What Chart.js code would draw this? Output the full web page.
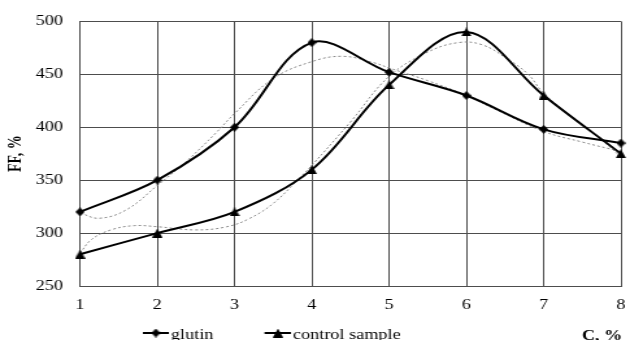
<!DOCTYPE html>
<html>
<head>
<meta charset="utf-8">
<script src="https://cdn.jsdelivr.net/npm/chart.js@4/dist/chart.umd.min.js"></script>
<style>
  html, body { margin: 0; padding: 0; background: #fff; }
</style>
</head>
<body>
<!-- the drawing surface is laid out narrower and widened by CSS -->
<canvas id="chart" width="485" height="340" style="display:block;width:630px;height:340px"></canvas>
<script>
// Concentration C, %
const concentration = [1, 2, 3, 4, 5, 6, 7, 8];

// FF, % for each sample
const glutin = [320, 350, 400, 480, 452, 430, 398, 385];
const controlSample = [280, 300, 320, 360, 440, 490, 430, 375];

// Trend curves (dotted)
const glutinTrendC  = [1, 1.25, 1.6, 2, 2.35, 2.75, 3, 3.5, 4, 4.4, 4.8, 5, 5.5, 6, 6.4, 7, 7.5, 8];
const glutinTrendFF = [319, 314, 322, 345, 366, 394, 413, 446, 462, 467, 461, 456, 444, 430, 416, 396, 386, 377];
const controlTrendC  = [1, 1.15, 1.4, 1.7, 2, 2.5, 2.9, 3.2, 3.5, 3.8, 4, 4.5, 5, 5.5, 5.9, 6.2, 6.5, 6.8, 7, 7.4, 7.75, 8];
const controlTrendFF = [281, 294, 303, 307, 306, 303, 306, 314, 328, 349, 364, 405, 448, 471, 480, 478, 466, 450, 432, 408, 388, 372];

// Axis ranges
const cMin = 1, cMax = 8, cStep = 1;
const ffMin = 250, ffMax = 500, ffStep = 50;

const SERIF = "'Liberation Serif', 'Times New Roman', serif";
const GRID = '#4d4d4d';

// Marker sprites (pre-narrowed, the canvas is widened by CSS)
function makeDiamond() {
  const c = document.createElement('canvas');
  c.width = 7; c.height = 9;
  const g = c.getContext('2d');
  g.fillStyle = '#000';
  g.beginPath();
  g.moveTo(3.5, 0); g.lineTo(7, 4.5); g.lineTo(3.5, 9); g.lineTo(0, 4.5);
  g.closePath(); g.fill();
  return c;
}
function makeTriangle() {
  const c = document.createElement('canvas');
  c.width = 8; c.height = 9;
  const g = c.getContext('2d');
  g.fillStyle = '#000';
  g.beginPath();
  g.moveTo(4, 0); g.lineTo(8, 9); g.lineTo(0, 9);
  g.closePath(); g.fill();
  return c;
}
const diamond = makeDiamond();
const triangle = makeTriangle();

const toPoints = (xs, ys) => xs.map((x, i) => ({ x: x, y: ys[i] }));

// Legend under the axis plus the axis name "C, %"
const bottomTexts = {
  id: 'bottomTexts',
  afterDraw(chart) {
    const ctx = chart.ctx;
    const y = 333;
    const items = [
      { ds: 0, x0: 110, x1: 130, mx: 120, tx: 131.6 },
      { ds: 1, x0: 203.6, x1: 224, mx: 214, tx: 225.6 }
    ];
    ctx.save();
    items.forEach(it => {
      const ds = chart.data.datasets[it.ds];
      ctx.strokeStyle = '#000';
      ctx.lineWidth = 2;
      ctx.beginPath();
      ctx.moveTo(it.x0, y); ctx.lineTo(it.x1, y);
      ctx.stroke();
      const img = ds.pointStyle;
      ctx.drawImage(img, it.mx - img.width / 2, y - img.height / 2);
      ctx.fillStyle = '#000';
      ctx.font = '14px ' + SERIF;
      ctx.textAlign = 'left';
      ctx.textBaseline = 'alphabetic';
      ctx.fillText(ds.label, it.tx, 338.5);
    });
    ctx.font = 'bold 14px ' + SERIF;
    ctx.fillText('C, %', 448, 340);
    ctx.restore();
  }
};

new Chart(document.getElementById('chart'), {
  type: 'line',
  data: {
    datasets: [
      {
        label: 'glutin',
        data: toPoints(concentration, glutin),
        borderColor: '#000',
        borderWidth: 2,
        tension: 0.35,
        pointStyle: diamond,
        pointRadius: 5,
        clip: false
      },
      {
        label: 'control sample',
        data: toPoints(concentration, controlSample),
        borderColor: '#000',
        borderWidth: 2,
        tension: 0.35,
        pointStyle: triangle,
        pointRadius: 5,
        clip: false
      },
      {
        label: 'glutin trend',
        data: toPoints(glutinTrendC, glutinTrendFF),
        borderColor: '#8a8a8a',
        borderWidth: 1,
        borderDash: [2, 2],
        tension: 0.4,
        pointRadius: 0
      },
      {
        label: 'control sample trend',
        data: toPoints(controlTrendC, controlTrendFF),
        borderColor: '#8a8a8a',
        borderWidth: 1,
        borderDash: [2, 2],
        tension: 0.4,
        pointRadius: 0
      }
    ]
  },
  options: {
    responsive: false,
    animation: false,
    devicePixelRatio: 1,
    layout: { padding: { left: 0, top: 17, right: 0.5, bottom: 0 } },
    plugins: {
      legend: { display: false },
      tooltip: { enabled: false }
    },
    scales: {
      x: {
        type: 'linear',
        min: cMin,
        max: cMax,
        grid: { color: GRID, lineWidth: 1, drawTicks: false },
        border: { color: GRID, width: 1 },
        ticks: {
          stepSize: cStep,
          padding: 11,
          color: '#000',
          font: { family: SERIF, size: 14 },
          maxRotation: 0
        },
        afterFit(scale) {
          scale.height = 54;
          scale.paddingLeft = 0;
          scale.paddingRight = 0;
        }
      },
      y: {
        min: ffMin,
        max: ffMax,
        grid: { color: GRID, lineWidth: 1, drawTicks: false },
        border: { color: GRID, width: 1 },
        ticks: {
          stepSize: ffStep,
          padding: 13,
          color: '#000',
          font: { family: SERIF, size: 14 }
        },
        title: {
          display: true,
          text: 'FF, %',
          color: '#000',
          font: { family: SERIF, size: 14, weight: 'bold' },
          padding: { top: 4.4, bottom: 0 }
        },
        afterFit(scale) {
          scale.width = 61.6;
        }
      }
    }
  },
  plugins: [bottomTexts]
});
</script>
</body>
</html>
